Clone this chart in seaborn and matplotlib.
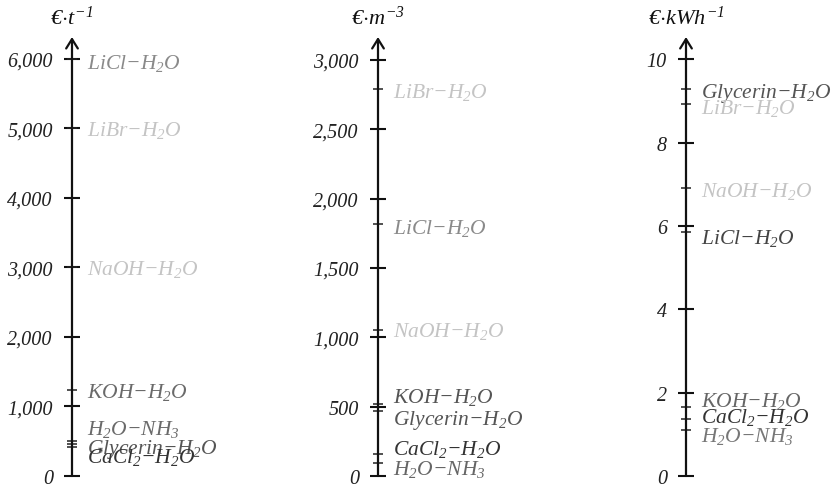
import matplotlib
matplotlib.use("Agg")
import matplotlib.pyplot as plt
import seaborn as sns
import pandas as pd

# ---------------- data ----------------
units = [r"$€{\cdot}t^{-1}$", r"$€{\cdot}m^{-3}$", r"$€{\cdot}kWh^{-1}$"]

p1_names = ["LiCl", "LiBr", "NaOH", "KOH", "NH3", "Glycerin", "CaCl2"]
p1_values = [6000, 5000, 3000, 1230, 510, 460, 410]
p1_ticks = [0, 1000, 2000, 3000, 4000, 5000, 6000]
p1_ticklabels = ["0", "1,000", "2,000", "3,000", "4,000", "5,000", "6,000"]

p2_names = ["LiBr", "LiCl", "NaOH", "KOH", "Glycerin", "CaCl2", "NH3"]
p2_values = [2790, 1820, 1050, 520, 470, 160, 95]
p2_ticks = [0, 500, 1000, 1500, 2000, 2500, 3000]
p2_ticklabels = ["0", "500", "1,000", "1,500", "2,000", "2,500", "3,000"]

p3_names = ["Glycerin", "LiBr", "NaOH", "LiCl", "KOH", "CaCl2", "NH3"]
p3_values = [9.28, 8.93, 6.92, 5.87, 1.65, 1.37, 1.10]
p3_ticks = [0, 2, 4, 6, 8, 10]
p3_ticklabels = ["0", "2", "4", "6", "8", "10"]

label_text = {
    "LiCl": r"$LiCl{-}H_2O$",
    "LiBr": r"$LiBr{-}H_2O$",
    "NaOH": r"$NaOH{-}H_2O$",
    "KOH": r"$KOH{-}H_2O$",
    "NH3": r"$H_2O{-}NH_3$",
    "Glycerin": r"$Glycerin{-}H_2O$",
    "CaCl2": r"$CaCl_2{-}H_2O$",
}

# ---------------- styles / layout ----------------
p1_colors = ["#8a8a8a", "#c4c4c4", "#c4c4c4", "#6a6a6a", "#6a6a6a", "#555555", "#333333"]
p2_colors = ["#c4c4c4", "#8a8a8a", "#c4c4c4", "#555555", "#555555", "#333333", "#666666"]
p3_colors = ["#555555", "#c4c4c4", "#c4c4c4", "#444444", "#666666", "#333333", "#777777"]
# vertical label nudges in pixels (positive = down)
p1_dy = [2, 0, 0, 0, -14, 2, 8]
p2_dy = [1, 2, -1, -9, 6, -7, 4]
p3_dy = [1, 2, 1, 4, -8, -4, 4]
ytops = [6310, 3165, 10.54]
axis_x_px = [72, 378, 686]

sns.set_theme(style="white")
plt.rcParams["font.family"] = ["Liberation Serif", "DejaVu Serif"]
plt.rcParams["mathtext.fontset"] = "custom"
plt.rcParams["mathtext.rm"] = "Liberation Serif:italic"
plt.rcParams["mathtext.it"] = "Liberation Serif:italic"
plt.rcParams["mathtext.bf"] = "Liberation Serif:italic:bold"

W, H = 837, 489
fig = plt.figure(figsize=(W / 100, H / 100), dpi=100)
bottom_px, top_px = 477, 38

panels = [
    (p1_names, p1_values, p1_ticks, p1_ticklabels, p1_colors, p1_dy),
    (p2_names, p2_values, p2_ticks, p2_ticklabels, p2_colors, p2_dy),
    (p3_names, p3_values, p3_ticks, p3_ticklabels, p3_colors, p3_dy),
]

for i, (names, vals, ticks, tlabels, cols, dys) in enumerate(panels):
    x0 = axis_x_px[i] / W
    ax = fig.add_axes([x0, (H - bottom_px) / H, 0.15, (bottom_px - top_px) / H])
    ax.patch.set_alpha(0)
    df = pd.DataFrame({"x": [0.0] * len(vals), "value": vals})
    sns.scatterplot(data=df, x="x", y="value", marker="_", s=55, color="#222222",
                    linewidth=1.1, ax=ax, legend=False, clip_on=False, zorder=3)
    ax.set_xlim(0, 1)
    ax.set_ylim(0, ytops[i])
    ax.set_xlabel("")
    ax.set_ylabel("")
    ax.set_xticks([])
    sns.despine(ax=ax, left=True, bottom=True)
    ax.set_yticks(ticks)
    ax.set_yticklabels(tlabels, fontstyle="italic", fontsize=14.5, color="#222222")
    ax.tick_params(axis="y", which="major", direction="inout", length=11.5,
                   width=1.5, color="#111111", pad=8, left=True)
    for t in ax.yaxis.get_major_ticks():
        t.tick1line.set_clip_on(False)
    ax.annotate("", xy=(0, 1), xytext=(0, 0), xycoords="axes fraction",
                arrowprops=dict(arrowstyle="->,head_length=0.45,head_width=0.28",
                                lw=1.6, color="#111111", shrinkA=0, shrinkB=0,
                                mutation_scale=15))
    for n, v, c, dy in zip(names, vals, cols, dys):
        ax.annotate(label_text[n], xy=(0, v), xycoords=("axes fraction", "data"),
                    xytext=(11, -(dy + 7) * 0.72), textcoords="offset points",
                    ha="left", va="baseline", fontsize=15.5, color=c,
                    annotation_clip=False)
    fig.text(x0, 1 - 18 / H, units[i], ha="center", va="center", fontsize=16,
             color="#111111")

fig.savefig("out.png", dpi=100)
